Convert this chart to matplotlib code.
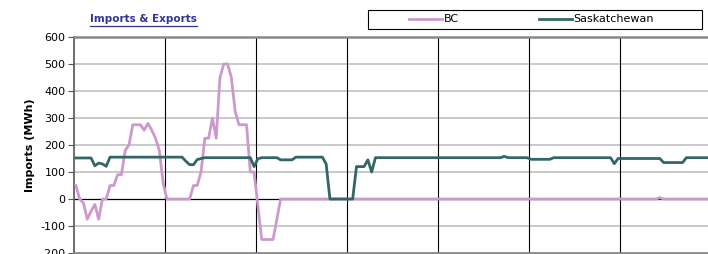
import matplotlib
matplotlib.use("Agg")
import matplotlib.pyplot as plt
from matplotlib.lines import Line2D
from matplotlib.patches import Rectangle
import numpy as np

hours = list(range(168))
day_ticks = [0, 24, 48, 72, 96, 120, 144, 168]

bc = [50, 0, -15, -75, -45, -20, -75, 0, 0, 50, 50, 90, 90, 180, 200, 275, 275, 275, 255, 280, 255, 225, 180, 60,
      0, 0, 0, 0, 0, 0, 0, 50, 50, 100, 225, 225, 300, 225, 450, 500, 500, 450, 325, 275, 275, 275, 100, 100,
      -25, -150, -150, -150, -150, -75, 0, 0, 0, 0, 0, 0, 0, 0, 0, 0, 0, 0, 0, 0, 0, 0, 0, 0,
      0, 0, 0, 0, 0, 0, 0, 0, 0, 0, 0, 0, 0, 0, 0, 0, 0, 0, 0, 0, 0, 0, 0, 0,
      0, 0, 0, 0, 0, 0, 0, 0, 0, 0, 0, 0, 0, 0, 0, 0, 0, 0, 0, 0, 0, 0, 0, 0,
      0, 0, 0, 0, 0, 0, 0, 0, 0, 0, 0, 0, 0, 0, 0, 0, 0, 0, 0, 0, 0, 0, 0, 0,
      0, 0, 0, 0, 0, 0, 0, 0, 0, 0, 5, 0, 0, 0, 0, 0, 0, 0, 0, 0, 0, 0, 0, 0]

sask = [152, 152, 152, 152, 152, 123, 133, 130, 121, 155, 155, 155, 155, 155, 155, 155, 155, 155, 155, 155, 155, 155, 155, 155,
        155, 155, 155, 155, 155, 140, 127, 127, 146, 150, 153, 153, 153, 153, 153, 153, 153, 153, 153, 153, 153, 153, 153, 120,
        149, 153, 153, 153, 153, 153, 145, 145, 145, 145, 155, 155, 155, 155, 155, 155, 155, 155, 130, 0, 0, 0, 0, 0,
        0, 0, 120, 120, 120, 145, 100, 153, 153, 153, 153, 153, 153, 153, 153, 153, 153, 153, 153, 153, 153, 153, 153, 153,
        153, 153, 153, 153, 153, 153, 153, 153, 153, 153, 153, 153, 153, 153, 153, 153, 153, 158, 153, 153, 153, 153, 153, 153,
        147, 147, 147, 147, 147, 147, 153, 153, 153, 153, 153, 153, 153, 153, 153, 153, 153, 153, 153, 153, 153, 153, 131, 150,
        150, 150, 150, 150, 150, 150, 150, 150, 150, 150, 150, 135, 135, 135, 135, 135, 135, 153, 153, 153, 153, 153, 153, 153]

yticks = [-200, -100, 0, 100, 200, 300, 400, 500, 600]

W, H = 708, 254
fig = plt.figure(figsize=(W / 100, H / 100), dpi=100)
ax = fig.add_axes([74 / W, 1 - 253 / H, (711 - 74) / W, (253 - 37) / H])

ax.set_xlim(-0.5, 167.5)
ax.set_ylim(-200, 600)

for y in yticks:
    if y == 0:
        continue
    ax.axhline(y, color="#c0c0c0", lw=1.2, zorder=1)
ax.axhline(0, color="black", lw=0.9, zorder=1)
for d in day_ticks[1:-1]:
    ax.axvline(d - 0.5, color="black", lw=0.8, zorder=1)

l1, = ax.plot(hours, bc, color="#cc99cc", lw=2.0, zorder=3, solid_joinstyle="round")
l2, = ax.plot(hours, sask, color="#336666", lw=2.0, zorder=4, solid_joinstyle="round")

ax.set_yticks(yticks)
ax.set_yticklabels([str(v) for v in yticks], fontsize=8, color="#000000")
ax.set_xticks([d - 0.5 for d in day_ticks])
ax.set_xticklabels([])
ax.tick_params(axis="y", direction="out", length=4, width=0.8, color="#555555", pad=2)
ax.tick_params(axis="x", length=0)

for s in ["top", "bottom"]:
    ax.spines[s].set_color("#888888")
    ax.spines[s].set_linewidth(1.8)
ax.spines["left"].set_color("#555555")
ax.spines["left"].set_linewidth(1.2)
ax.spines["right"].set_visible(False)

fig.text(30 / W, 1 - 145 / H, "Imports (MWh)", rotation=90, ha="center", va="center",
         fontsize=8, fontweight="bold")

t = fig.text(90 / W, 1 - 19 / H, "Imports & Exports", ha="left", va="center",
             fontsize=7.5, fontweight="bold", color="#333399")
fig.canvas.draw()
bb = t.get_window_extent().transformed(fig.transFigure.inverted())
fig.add_artist(Line2D([bb.x0, bb.x1], [1 - 25.5 / H, 1 - 25.5 / H], transform=fig.transFigure,
                      color="#333399", lw=0.9))

fig.legend([l1, l2], ["BC", "Saskatchewan"], loc="center left",
           bbox_to_anchor=(409 / W, 1 - 19.5 / H), ncol=2, frameon=False,
           handlelength=3.0, handletextpad=0.1, columnspacing=7.2, borderpad=0,
           borderaxespad=0, fontsize=8)
fig.add_artist(Rectangle((368 / W, 1 - 29 / H), 334 / W, 19 / H, transform=fig.transFigure,
                         fill=False, edgecolor="black", lw=0.8))

fig.savefig("out.png", dpi=100)
